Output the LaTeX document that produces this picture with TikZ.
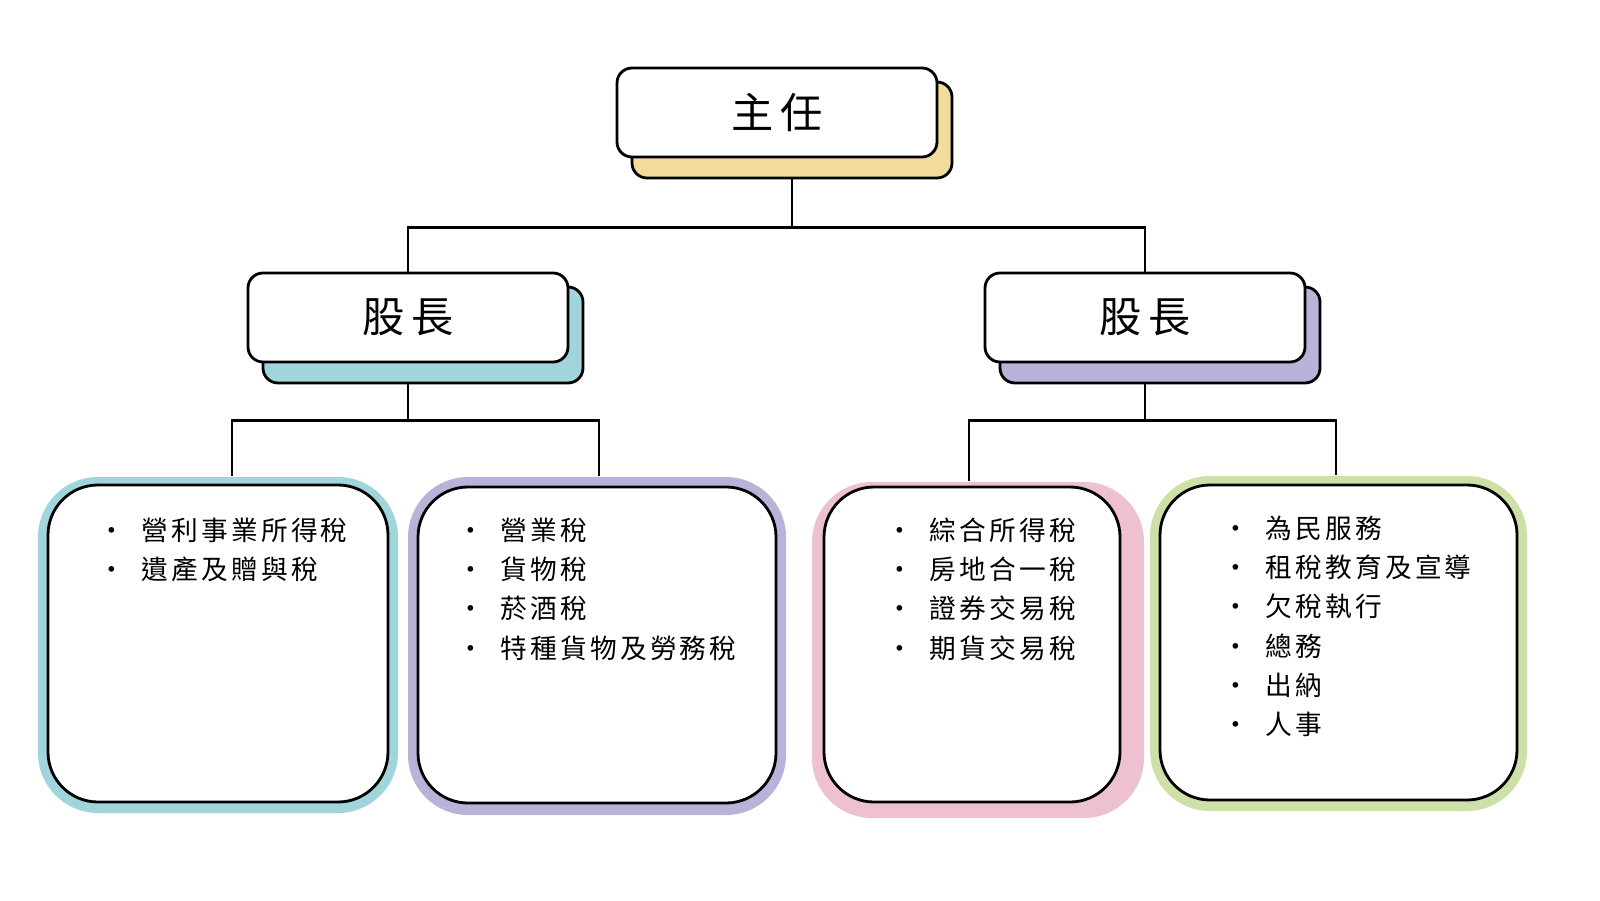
\documentclass[tikz,border=0pt]{standalone}
\usepackage{fontspec}
\newfontfamily\cjk[LetterSpace=18]{Noto Sans CJK TC}
\newfontfamily\cjklist[LetterSpace=12]{Noto Sans CJK TC}
\usetikzlibrary{positioning}
\definecolor{cyel}{HTML}{F2DC9B}
\definecolor{cteal}{HTML}{A0D5DC}
\definecolor{cpurp}{HTML}{B9B3DA}
\definecolor{cpink}{HTML}{EDC1D2}
\definecolor{cgreen}{HTML}{CDE0A8}
\tikzset{
  headbox/.style={draw,thick,fill=white,rounded corners=0.15cm,minimum width=3.2cm,minimum height=0.89cm,font=\cjk\fontsize{12}{14}\selectfont},
  headshadow/.style={draw,thick,rounded corners=0.15cm,minimum width=3.2cm,minimum height=0.96cm},
  outerbox/.style={rounded corners=0.6cm,inner sep=0pt},
  innerbox/.style={draw,thick,fill=white,rounded corners=0.5cm,inner sep=0pt},
  itemlist/.style={anchor=north west,align=left,inner sep=0pt,font=\cjklist\fontsize{7.6}{11.2}\selectfont},
}
\begin{document}
\begin{tikzpicture}
\useasboundingbox (0,0) rectangle (16,9);

%Director
\node [headshadow,fill=cyel]  (zhus)at (7.92,7.70) {};
\node [headbox]  (zhu)at (7.77,7.875) {主任};

%Section chiefs
\node [headshadow,fill=cteal]  (gls)at (4.23,5.65) {};
\node [headbox]  (gl)at (4.08,5.825) {股長};
\node [headshadow,fill=cpurp]  (grs)at (11.60,5.65) {};
\node [headbox]  (gr)at (11.45,5.825) {股長};

%Bottom boxes
\node [outerbox,fill=cteal,minimum width=3.6cm,minimum height=3.36cm]  (b1)at (2.18,2.55) {};
\node [innerbox,minimum width=3.4cm,minimum height=3.17cm]  (b1i)at (2.18,2.565) {};
\node [outerbox,fill=cpurp,minimum width=3.78cm,minimum height=3.38cm]  (b2)at (5.97,2.54) {};
\node [innerbox,minimum width=3.58cm,minimum height=3.16cm]  (b2i)at (5.97,2.55) {};
\node [outerbox,fill=cpink,minimum width=3.32cm,minimum height=3.36cm]  (b3)at (9.78,2.50) {};
\node [innerbox,minimum width=2.96cm,minimum height=3.15cm]  (b3i)at (9.72,2.555) {};
\node [outerbox,fill=cgreen,minimum width=3.77cm,minimum height=3.35cm]  (b4)at (13.385,2.565) {};
\node [innerbox,minimum width=3.57cm,minimum height=3.15cm]  (b4i)at (13.385,2.575) {};

%Lists
\node [itemlist]  (l1)at (0.98,3.83) {•\hspace{0.6em}營利事業所得稅\\•\hspace{0.6em}遺產及贈與稅};
\node [itemlist]  (l2)at (4.57,3.83) {•\hspace{0.6em}營業稅\\•\hspace{0.6em}貨物稅\\•\hspace{0.6em}菸酒稅\\•\hspace{0.6em}特種貨物及勞務稅};
\node [itemlist]  (l3)at (8.86,3.83) {•\hspace{0.6em}綜合所得稅\\•\hspace{0.6em}房地合一稅\\•\hspace{0.6em}證券交易稅\\•\hspace{0.6em}期貨交易稅};
\node [itemlist]  (l4)at (12.22,3.85) {•\hspace{0.6em}為民服務\\•\hspace{0.6em}租稅教育及宣導\\•\hspace{0.6em}欠稅執行\\•\hspace{0.6em}總務\\•\hspace{0.6em}出納\\•\hspace{0.6em}人事};

%Connectors
\draw[thick] (zhus.south) -- ++(0,-0.48) coordinate (zj) -| (gl.north);
\draw[thick] (zj) -| (gr.north);
\draw[thick] (gl.south |- gls.south) -- ++(0,-0.36) coordinate (lj) -| ([xshift=0.14cm]b1.north);
\draw[thick] (lj) -| ([xshift=0.02cm]b2.north);
\draw[thick] (gr.south |- grs.south) -- ++(0,-0.36) coordinate (rj) -| ([xshift=-0.09cm]b3.north);
\draw[thick] (rj) -| ([xshift=-0.025cm]b4.north);

\end{tikzpicture}
\end{document}
